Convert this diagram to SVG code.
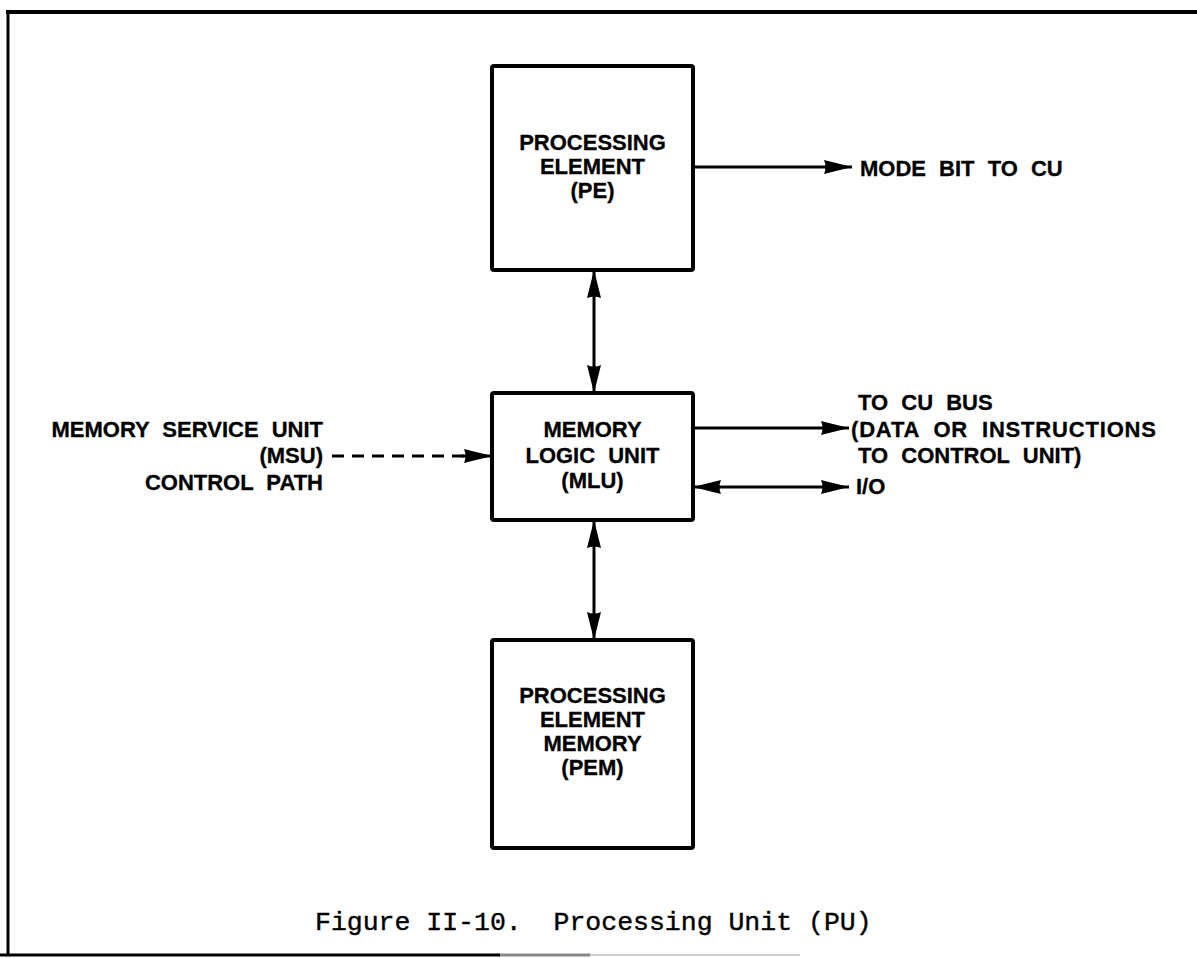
<svg xmlns="http://www.w3.org/2000/svg" width="1197" height="958" viewBox="0 0 1197 958">
  <style>
    .box { fill: #fff; stroke: #000; stroke-width: 4; stroke-linejoin: round; }
    .lbl { font-family: "Liberation Sans", Arial, sans-serif; font-weight: bold; font-size: 22px; word-spacing: 7px; fill: #000; stroke: #000; stroke-width: 0.3; }
    .mid { text-anchor: middle; }
    .end { text-anchor: end; }
    .wire { stroke: #000; stroke-width: 3; fill: none; }
    .dash { stroke-dasharray: 12 8; }
    .cap { font-family: "Liberation Mono", "Courier New", monospace; font-size: 26.5px; fill: #000; stroke: #000; stroke-width: 0.4; }
  </style>
  <defs>
    <marker id="head" viewBox="0 0 28 16" refX="28" refY="8" markerWidth="28" markerHeight="16" markerUnits="userSpaceOnUse" orient="auto-start-reverse">
      <path d="M0,1 Q3,8 0,15 L28,8 Z" fill="#000"/>
    </marker>
  </defs>

  <rect width="1197" height="958" fill="#fff"/>

  <!-- page frame -->
  <g id="frame" fill="none" stroke="#000">
    <path d="M6,12 L1197,12" stroke-width="4"/>
    <path d="M8,11 L8,955" stroke-width="3"/>
    <path d="M0,955 L500,955" stroke-width="3"/>
    <path d="M500,955 L590,955" stroke-width="3" stroke="#888"/>
    <path d="M590,955 L800,955" stroke-width="2" stroke="#ccc"/>
  </g>

  <!-- connectors -->
  <g id="connectors">
    <path class="wire" d="M693,167 L852,167" marker-end="url(#head)"/>
    <path class="wire" d="M594,270 L594,393" marker-start="url(#head)" marker-end="url(#head)"/>
    <path class="wire" d="M594,520 L594,640" marker-start="url(#head)" marker-end="url(#head)"/>
    <path class="wire dash" d="M332,456 L464,456"/>
    <path class="wire" d="M462,456 L492,456" marker-end="url(#head)"/>
    <path class="wire" d="M693,428 L849,428" marker-end="url(#head)"/>
    <path class="wire" d="M693,487 L849,487" marker-start="url(#head)" marker-end="url(#head)"/>
  </g>

  <g id="pe">
    <rect class="box" x="492" y="66" width="201" height="204" rx="2"/>
    <text class="lbl mid" x="592.5" y="150">PROCESSING</text>
    <text class="lbl mid" x="592.5" y="174">ELEMENT</text>
    <text class="lbl mid" x="592.5" y="198">(PE)</text>
  </g>

  <g id="mlu">
    <rect class="box" x="492" y="393" width="201" height="127" rx="2"/>
    <text class="lbl mid" x="592.5" y="437">MEMORY</text>
    <text class="lbl mid" x="592.5" y="463">LOGIC UNIT</text>
    <text class="lbl mid" x="592.5" y="488">(MLU)</text>
  </g>

  <g id="pem">
    <rect class="box" x="492" y="640" width="201" height="208" rx="2"/>
    <text class="lbl mid" x="592.5" y="703">PROCESSING</text>
    <text class="lbl mid" x="592.5" y="727">ELEMENT</text>
    <text class="lbl mid" x="592.5" y="751">MEMORY</text>
    <text class="lbl mid" x="592.5" y="775">(PEM)</text>
  </g>

  <g id="msu">
    <text class="lbl end" x="323" y="437">MEMORY SERVICE UNIT</text>
    <text class="lbl end" x="323" y="463">(MSU)</text>
    <text class="lbl end" x="323" y="490">CONTROL PATH</text>
  </g>

  <g id="mode-bit">
    <text class="lbl" x="860" y="176">MODE BIT TO CU</text>
  </g>

  <g id="cu-bus">
    <text class="lbl" x="858" y="410">TO CU BUS</text>
    <text class="lbl" x="851" y="437" textLength="305" lengthAdjust="spacing">(DATA OR INSTRUCTIONS</text>
    <text class="lbl" x="858" y="463">TO CONTROL UNIT)</text>
  </g>

  <g id="io">
    <text class="lbl" x="856" y="494">I/O</text>
  </g>

  <text id="caption" class="cap" x="315" y="930" xml:space="preserve">Figure II-10.  Processing Unit (PU)</text>
</svg>
